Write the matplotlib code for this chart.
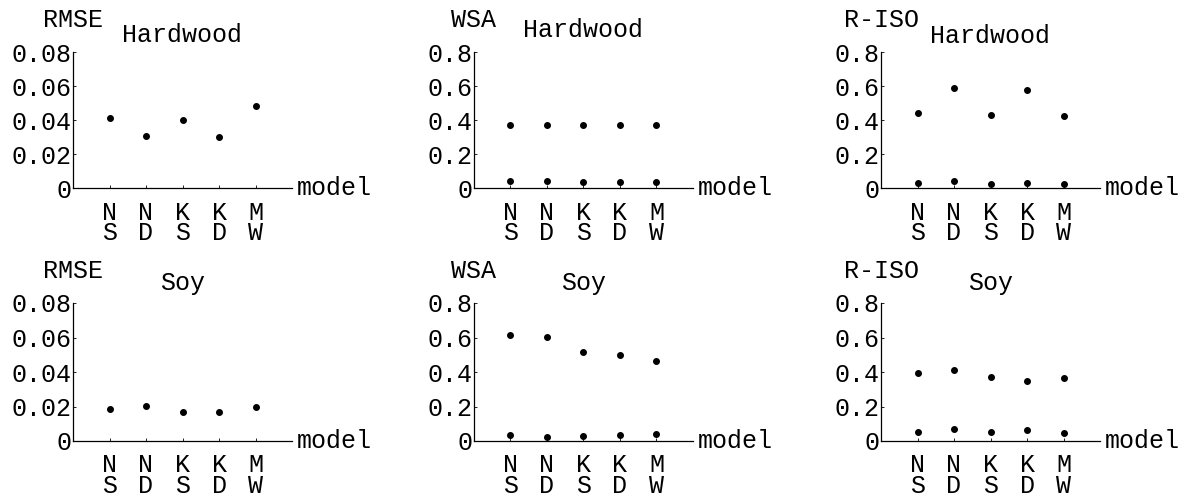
"""
Model comparison: RMSE, WSA and R-ISO for Hardwood and Soy
"""

import matplotlib
matplotlib.use("Agg")
import matplotlib.pyplot as plt

# Data
models = ["N\nS", "N\nD", "K\nS", "K\nD", "M\nW"]
model_pos = [1, 2, 3, 4, 5]

rmse_hardwood = [0.0414, 0.0304, 0.0398, 0.0300, 0.0482]
wsa_hardwood_hi = [0.373, 0.373, 0.368, 0.372, 0.370]
wsa_hardwood_lo = [0.040, 0.040, 0.036, 0.038, 0.038]
riso_hardwood_hi = [0.442, 0.589, 0.432, 0.579, 0.423]
riso_hardwood_lo = [0.030, 0.040, 0.026, 0.030, 0.024]

rmse_soy = [0.0185, 0.0202, 0.0166, 0.0170, 0.0200]
wsa_soy_hi = [0.614, 0.603, 0.514, 0.500, 0.466]
wsa_soy_lo = [0.037, 0.023, 0.029, 0.037, 0.041]
riso_soy_hi = [0.392, 0.414, 0.371, 0.348, 0.363]
riso_soy_lo = [0.052, 0.070, 0.052, 0.066, 0.048]

rmse_ticks = [0, 0.02, 0.04, 0.06, 0.08]
rmse_ticklabels = ["0", "0.02", "0.04", "0.06", "0.08"]
frac_ticks = [0, 0.2, 0.4, 0.6, 0.8]
frac_ticklabels = ["0", "0.2", "0.4", "0.6", "0.8"]

FONT = "Liberation Mono"
FS = 18


def draw_panel(ax, series, ylabel, title, title_y, ticks, ticklabels):
    """
    Draw one Mathematica-style panel
    """
    for values in series:
        ax.plot(model_pos, values, "o", color="black", markersize=4,
                linestyle="none", clip_on=False)
    ax.set_xlim(0, 6)
    ax.set_ylim(ticks[0], ticks[-1])
    for side in ("top", "right"):
        ax.spines[side].set_visible(False)
    for side in ("left", "bottom"):
        ax.spines[side].set_linewidth(0.9)
    ax.set_xticks(model_pos)
    ax.set_xticklabels(models, fontfamily=FONT, fontsize=FS, linespacing=0.8)
    ax.set_yticks(ticks)
    ax.set_yticklabels(ticklabels, fontfamily=FONT, fontsize=FS)
    ax.tick_params(axis="x", direction="in", length=2.5, width=0.6, pad=9)
    ax.tick_params(axis="y", direction="in", length=2.5, width=0.6, pad=1)
    ax.text(0.0, 1.235, ylabel, transform=ax.transAxes, ha="center",
            va="center", fontfamily=FONT, fontsize=FS)
    ax.text(0.5, title_y, title, transform=ax.transAxes, ha="center",
            va="center", fontfamily=FONT, fontsize=FS)
    ax.text(1.02, 0.0, "model", transform=ax.transAxes, ha="left",
            va="center", fontfamily=FONT, fontsize=FS)


def main():
    """
    Main function
    """
    fig = plt.figure(figsize=(11.9, 4.96), dpi=100)

    lefts = [73 / 1190, 474 / 1190, 881 / 1190]
    width = 219 / 1190
    top_bottom, top_height = 308 / 496, 136 / 496
    low_bottom, low_height = 55 / 496, 138 / 496

    axes_top = [fig.add_axes([l, top_bottom, width, top_height]) for l in lefts]
    axes_low = [fig.add_axes([l, low_bottom, width, low_height]) for l in lefts]

    draw_panel(axes_top[0], [rmse_hardwood], "RMSE", "Hardwood", 1.125,
               rmse_ticks, rmse_ticklabels)
    draw_panel(axes_top[1], [wsa_hardwood_hi, wsa_hardwood_lo], "WSA",
               "Hardwood", 1.16, frac_ticks, frac_ticklabels)
    draw_panel(axes_top[2], [riso_hardwood_hi, riso_hardwood_lo], "R-ISO",
               "Hardwood", 1.12, frac_ticks, frac_ticklabels)

    draw_panel(axes_low[0], [rmse_soy], "RMSE", "Soy", 1.145,
               rmse_ticks, rmse_ticklabels)
    draw_panel(axes_low[1], [wsa_soy_hi, wsa_soy_lo], "WSA", "Soy", 1.145,
               frac_ticks, frac_ticklabels)
    draw_panel(axes_low[2], [riso_soy_hi, riso_soy_lo], "R-ISO", "Soy", 1.145,
               frac_ticks, frac_ticklabels)

    fig.savefig("out.png", dpi=100)


if __name__ == "__main__":
    main()
